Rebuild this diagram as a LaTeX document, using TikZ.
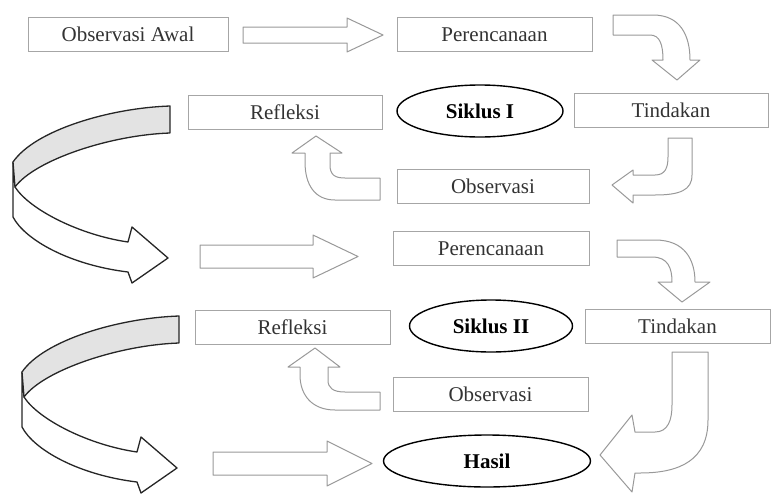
\documentclass[tikz,border=0pt]{standalone}
\usepackage{fontspec}
\setmainfont{Liberation Serif}
\usetikzlibrary{shapes.geometric}
\begin{document}
\begin{tikzpicture}[x=1pt, y=-1pt,
	kotak/.style={draw=gray!70, line width=1pt, text=black!80, minimum height=34pt, inner sep=0pt, font=\fontsize{21}{24}\selectfont},
	siklus/.style={draw=black, ellipse, line width=1.4pt, minimum height=52pt, inner sep=0pt, font=\fontsize{21}{24}\selectfont\bfseries},
	panah/.style={draw=gray!80, line width=1pt, fill=white, line join=round},
	lengkung/.style={draw=black!85, line width=1.3pt, line join=round}]

\useasboundingbox (0,0) rectangle (771,496);

\foreach \nama/\x/\y/\w/\teks in {
	obsAwal/128/34/200/Observasi Awal,
	ren1/494.5/34.5/195/Perencanaan,
	ref1/285/112.5/194/Refleksi,
	tin1/671/110/194/Tindakan,
	obs1/493/186.5/192/Observasi,
	ren2/491/248.5/196/Perencanaan,
	ref2/292.5/327/195/Refleksi,
	tin2/677.5/326.5/185/Tindakan,
	obs2/490.5/394.5/195/Observasi}
\node[kotak, minimum width=\w pt] (\nama) at (\x,\y) {\teks};

\node[siklus, minimum width=166pt] (sik1) at (480,111) {Siklus I};
\node[siklus, minimum width=163pt] (sik2) at (491,326) {Siklus II};
\node[siklus, minimum width=207pt] (hasil) at (487,461) {Hasil};

\foreach \xa/\xh/\xb/\ym/\sw/\hw in {
	243/347/383/35/8/17,
	200/313/358/256.5/11.5/21.5,
	213/327/372/463.5/11.5/22.5}
\draw[panah] (\xa,\ym-\sw) -- (\xh,\ym-\sw) -- (\xh,\ym-\hw) -- (\xb,\ym) -- (\xh,\ym+\hw) -- (\xh,\ym+\sw) -- (\xa,\ym+\sw) -- cycle;

\draw[panah] (613,15) -- (653,15) .. controls (680,15) and (690,35) .. (690,60) -- (700,60) -- (677,80) -- (652,60) -- (663,60) .. controls (663,45) and (660,35) .. (650,35) -- (613,35) -- cycle;
\draw[panah] (617,240) -- (655,240) .. controls (685,240) and (695,260) .. (695,282) -- (710,282) -- (682,302) -- (658,282) -- (672,282) .. controls (672,268) and (668,257) .. (652,257) -- (617,257) -- cycle;
\draw[panah] (668,138) -- (692,138) -- (692,175) .. controls (692,190) and (680,195) .. (655,195) -- (633,195) -- (633,203) -- (612,185) -- (633,170) -- (633,175) -- (655,175) .. controls (665,175) and (668,168) .. (668,157) -- cycle;
\draw[panah] (380,178) -- (380,200) -- (335,200) .. controls (315,200) and (305,185) .. (305,162) -- (305,153) -- (292,153) -- (316,136) -- (342,153) -- (330,153) -- (330,165) .. controls (330,175) and (335,178) .. (345,178) -- cycle;
\draw[panah] (380,392) -- (380,410) -- (335,410) .. controls (312,410) and (300,395) .. (300,375) -- (300,367) -- (288,367) -- (315,348) -- (340,367) -- (328,367) -- (328,380) .. controls (328,388) and (333,392) .. (345,392) -- cycle;
\draw[panah] (672,352) -- (708,352) -- (708,420) .. controls (708,460) and (680,473) .. (640,473) -- (635,473) -- (632,492) -- (600,455) -- (632,415) -- (635,432) -- (655,432) .. controls (668,432) and (672,420) .. (672,405) -- cycle;

\foreach \dx/\dy in {0/0, 9/210}{
\begin{scope}[shift={(\dx,\dy)}]
\draw[lengkung, fill=white] (13,162) -- (13,217) .. controls (25,240) and (70,265) .. (128,272) -- (132,283) -- (168,258) -- (132,227) -- (128,242) .. controls (80,235) and (30,210) .. (15,187) -- cycle;
\draw[lengkung, fill=gray!22] (170,106) .. controls (110,108) and (35,130) .. (13,162) -- (15,187) .. controls (35,160) and (110,135) .. (170,133) -- cycle;
\end{scope}}

\end{tikzpicture}
\end{document}
